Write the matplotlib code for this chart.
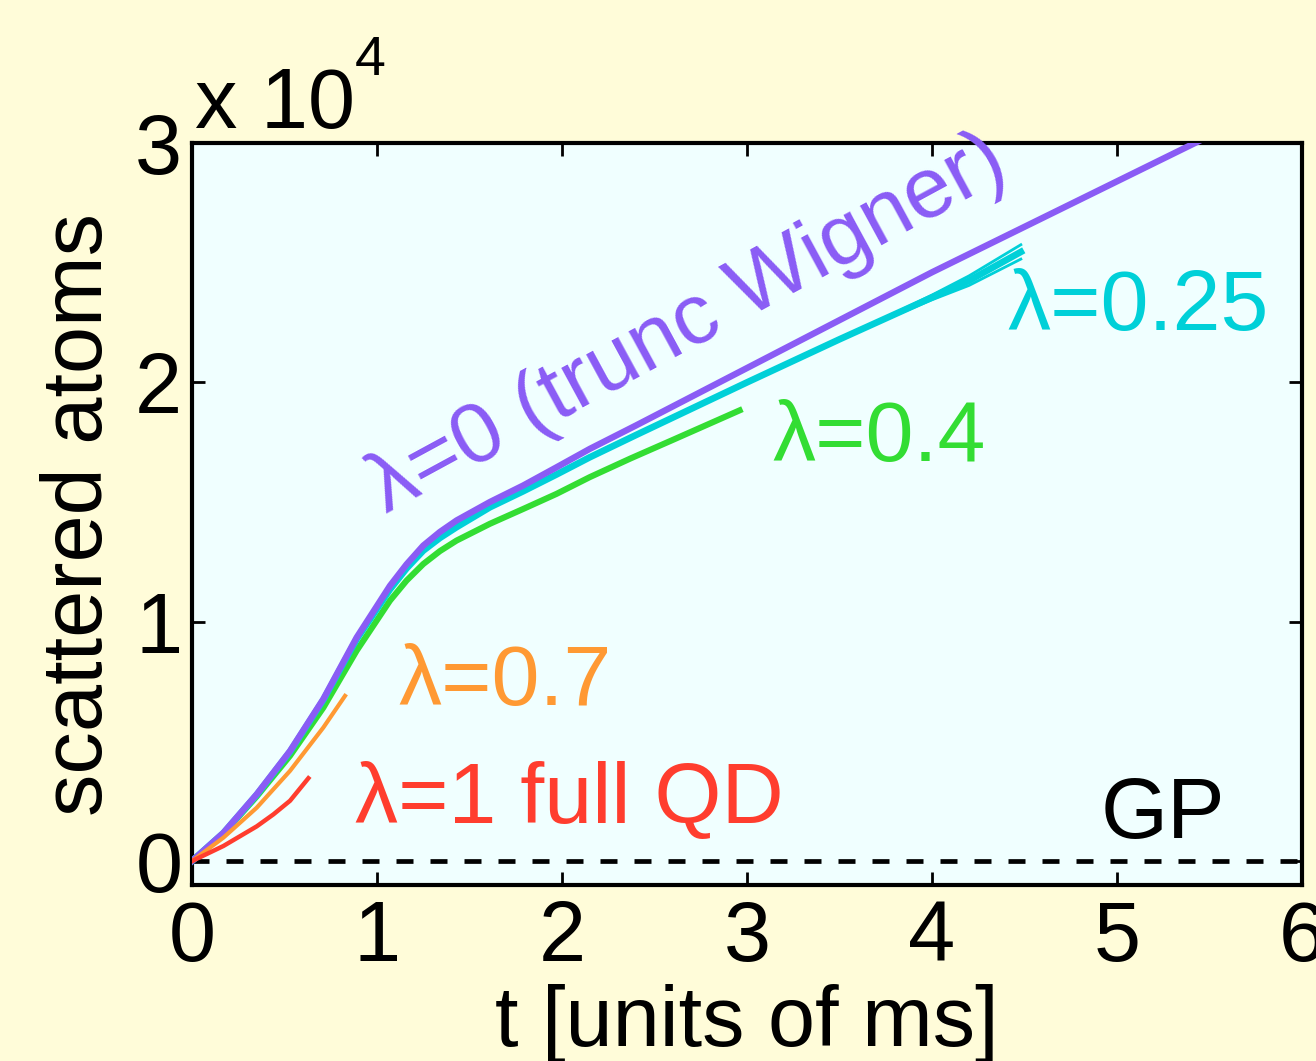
import matplotlib
matplotlib.use("Agg")
import matplotlib.pyplot as plt
from matplotlib.ticker import FuncFormatter

plt.rcParams['font.family'] = ['Liberation Sans', 'DejaVu Sans']

# scattered atoms vs t [ms], one run per lambda
t_w = [0, 0.17, 0.35, 0.53, 0.71, 0.89, 1.07, 1.16, 1.25, 1.34, 1.43, 1.61, 1.79, 1.97, 2.15, 2.4, 3.0, 3.5, 4.0, 4.5, 5.0, 5.5]
n_w = [0, 1180, 2790, 4600, 6770, 9340, 11500, 12400, 13180, 13750, 14230, 15000, 15690, 16450, 17220, 18200, 20600, 22600, 24600, 26500, 28400, 30300]

t_25 = [0, 0.17, 0.35, 0.53, 0.71, 0.89, 1.07, 1.16, 1.25, 1.34, 1.43, 1.61, 1.79, 1.97, 2.15, 2.4, 3.0, 3.5, 3.8, 4.0, 4.2, 4.48]
n_25 = [0, 1170, 2770, 4570, 6730, 9270, 11350, 12230, 12970, 13500, 13950, 14780, 15450, 16150, 16870, 17800, 20000, 21800, 22850, 23550, 24250, 25450]
n_25b = [0, 1170, 2770, 4570, 6730, 9270, 11350, 12230, 12970, 13500, 13950, 14780, 15450, 16150, 16870, 17800, 20000, 21800, 22900, 23650, 24450, 25750]
n_25c = [0, 1170, 2770, 4570, 6730, 9270, 11350, 12230, 12970, 13500, 13950, 14780, 15450, 16150, 16870, 17800, 20000, 21800, 22800, 23450, 24050, 25150]

t_04 = [0, 0.17, 0.35, 0.53, 0.71, 0.89, 1.07, 1.16, 1.25, 1.34, 1.43, 1.61, 1.79, 1.97, 2.15, 2.37, 2.6, 2.96]
n_04 = [0, 1150, 2700, 4400, 6410, 8790, 10880, 11720, 12410, 12950, 13390, 14090, 14710, 15340, 16040, 16820, 17600, 18830]

t_07 = [0, 0.17, 0.35, 0.53, 0.71, 0.827]
n_07 = [0, 980, 2230, 3770, 5580, 6900]

t_1 = [0, 0.17, 0.35, 0.44, 0.53, 0.629]
n_1 = [0, 630, 1450, 1950, 2520, 3460]

fig = plt.figure(figsize=(13.16, 10.61), dpi=100, facecolor='#fffcd9')
ax = fig.add_axes([0.1459, 0.1659, 0.8435, 0.6993], facecolor='#f0ffff')

ax.axhline(0, color='k', lw=3.4, dashes=[3.6, 3.6], zorder=1)
ax.plot(t_w, n_w, color='#8a5cf5', lw=4.6, zorder=6)
ax.plot(t_25, n_25b, color='#00d0d8', lw=2.0, zorder=5)
ax.plot(t_25, n_25c, color='#00d0d8', lw=2.0, zorder=5)
ax.plot(t_25, n_25, color='#00d0d8', lw=4.8, zorder=5)
ax.plot(t_04, n_04, color='#33dd33', lw=4.4, zorder=4)
ax.plot(t_07, n_07, color='#ff9933', lw=3.0, zorder=7)
ax.plot(t_1, n_1, color='#ff3d2e', lw=3.2, zorder=8)

fs = 62
ax.text(1.05, 14500, 'λ=0 (trunc Wigner)', color='#8a5cf5', fontsize=fs,
        rotation=28.5, rotation_mode='anchor', ha='left', va='baseline')
ax.text(4.41, 22200, 'λ=0.25', color='#00d0d8', fontsize=fs, ha='left', va='baseline')
ax.text(3.135, 16700, 'λ=0.4', color='#33dd33', fontsize=fs, ha='left', va='baseline')
ax.text(1.114, 6500, 'λ=0.7', color='#ff9933', fontsize=fs, ha='left', va='baseline')
ax.text(0.881, 1600, 'λ=1 full QD', color='#ff3d2e', fontsize=fs, ha='left', va='baseline')
ax.text(5.584, 950, 'GP', color='k', fontsize=fs, ha='right', va='baseline')

ax.set_xlim(0, 6)
ax.set_ylim(-1000, 30000)
ax.set_xticks(range(0, 7))
ax.set_yticks([0, 10000, 20000, 30000])
ax.yaxis.set_major_formatter(FuncFormatter(lambda v, p: '%d' % round(v / 1e4)))
ax.tick_params(direction='in', length=9.5, width=2.0, labelsize=61,
               top=True, right=True)
ax.tick_params(axis='x', pad=10)
ax.tick_params(axis='y', pad=7)
for s in ax.spines.values():
    s.set_linewidth(3.0)

ax.set_xlabel('t [units of ms]', fontsize=61, labelpad=4)
ax.set_ylabel('scattered atoms', fontsize=61, labelpad=11)

# MATLAB style exponent above the y axis
fig.text(195 / 1316, 1 - 128 / 1061, 'x 10', fontsize=61, ha='left', va='baseline')
fig.text(355 / 1316, 1 - 75 / 1061, '4', fontsize=40, ha='left', va='baseline')

fig.savefig('out.png', dpi=100, facecolor=fig.get_facecolor())
